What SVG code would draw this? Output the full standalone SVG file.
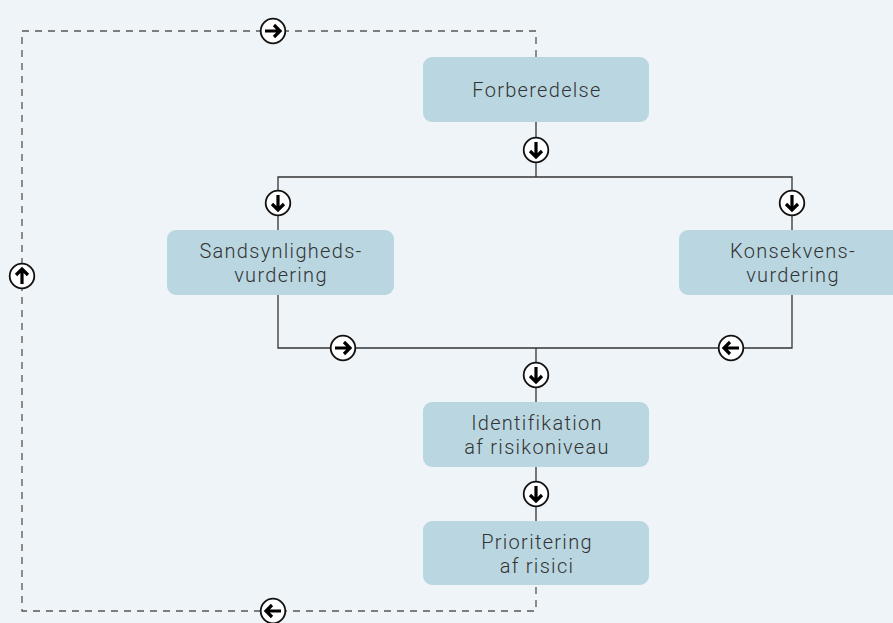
<svg xmlns="http://www.w3.org/2000/svg" width="893" height="623" viewBox="0 0 893 623">
<defs>
<style>
.box{fill:#bad7e1;}
.t{font-family:Roboto,"Liberation Sans",sans-serif;font-weight:300;font-size:20px;letter-spacing:1.3px;fill:#333;text-anchor:middle;}
.ln{stroke:#333;stroke-width:1.3;fill:none;}
.dash{stroke:#555;stroke-width:1.3;fill:none;stroke-dasharray:7 6;}
.c{fill:#fff;stroke:#111;stroke-width:1.8;}
.ar{fill:none;stroke:#000;stroke-width:3.2;stroke-linecap:butt;stroke-linejoin:miter;}
</style>
<g id="arrowDown">
<circle class="c" r="12.3"/>
<path class="ar" d="M0,-8 V7 M-6,1 L0,7 L6,1"/>
</g>
</defs>
<rect width="893" height="623" fill="#eff4f8"/>
<g id="connectors">
<path class="dash" d="M536,57 V31 H22 V611 H536 V585"/>
<path class="ln" d="M536,122 V177 M278,230 V177 H792 V230 M278,295 V348 H792 V295 M536,348 V402 M536,467 V521"/>
<use href="#arrowDown" x="536" y="150"/>
<use href="#arrowDown" x="278" y="203"/>
<use href="#arrowDown" x="792" y="203"/>
<use href="#arrowDown" x="536" y="375"/>
<use href="#arrowDown" x="536" y="494"/>
<use href="#arrowDown" transform="translate(343,348) rotate(-90)"/>
<use href="#arrowDown" transform="translate(731,348) rotate(90)"/>
<use href="#arrowDown" transform="translate(273,31) rotate(-90)"/>
<use href="#arrowDown" transform="translate(273,611) rotate(90)"/>
<use href="#arrowDown" transform="translate(22,276) rotate(180)"/>
</g>
<g id="forberedelse">
<rect class="box" x="423" y="57" width="226" height="65" rx="9"/>
<text class="t" x="537" y="97">Forberedelse</text>
</g>
<g id="sandsynlighed">
<rect class="box" x="167" y="230" width="227" height="65" rx="9"/>
<text class="t" x="281" y="258">Sandsynligheds-</text>
<text class="t" x="281" y="282">vurdering</text>
</g>
<g id="konsekvens">
<rect class="box" x="679" y="230" width="227" height="65" rx="9"/>
<text class="t" x="793" y="258">Konsekvens-</text>
<text class="t" x="793" y="282">vurdering</text>
</g>
<g id="identifikation">
<rect class="box" x="423" y="402" width="226" height="65" rx="9"/>
<text class="t" x="537" y="430">Identifikation</text>
<text class="t" x="537" y="454">af risikoniveau</text>
</g>
<g id="prioritering">
<rect class="box" x="423" y="521" width="226" height="64" rx="9"/>
<text class="t" x="537" y="549">Prioritering</text>
<text class="t" x="537" y="573">af risici</text>
</g>
</svg>
